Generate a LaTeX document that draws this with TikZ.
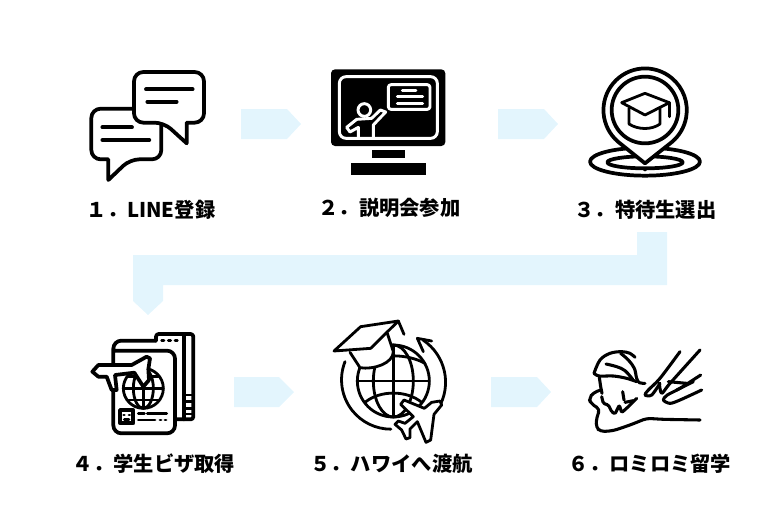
\documentclass[tikz,border=0pt]{standalone}
\usepackage{fontspec}
\setmainfont{Noto Sans CJK JP}
\tikzset{
  x=0.75pt,y=-0.75pt,
  blockarrow/.style={fill=arrowblue,draw=none},
  steplabel/.style={font=\fontsize{15.2}{18}\selectfont\bfseries,text=black,inner sep=0pt,anchor=center},
  icon/.style={x=0.25pt,y=-0.25pt},
  ink/.style={draw=black,line width=2.8pt,line join=round,line cap=round},
  thinink/.style={draw=black,line width=2.1pt,line join=round,line cap=round},
  chalk/.style={draw=white,line width=2.2pt,line join=round,line cap=round},
}
\definecolor{arrowblue}{HTML}{E3F5FD}
\begin{document}
\begin{tikzpicture}
\useasboundingbox (0,0) rectangle (777,525);
% block arrows
\fill[blockarrow] (241,109) -- (287,109) -- (301,124) -- (287,139) -- (241,139) -- cycle;
\fill[blockarrow] (498,109) -- (544,109) -- (558,124) -- (544,139) -- (498,139) -- cycle;
\fill[blockarrow] (234,377) -- (279,377) -- (294,392) -- (279,407) -- (234,407) -- cycle;
\fill[blockarrow] (491,377) -- (537,377) -- (551,392) -- (537,407) -- (491,407) -- cycle;
\fill[blockarrow] (637,232) -- (667,232) -- (667,285) -- (163,285) -- (163,301) -- (148,315) -- (133,301) -- (133,255) -- (637,255) -- cycle;
% labels
\node[steplabel] (s1) at (151,210) {１．LINE登録};
\node[steplabel] (s2) at (389.5,208) {２．説明会参加};
\node[steplabel] (s3) at (645.5,210) {３．特待生選出};
\node[steplabel] (s4) at (154,464) {４．学生ビザ取得};
\node[steplabel] (s5) at (391.5,464) {５．ハワイへ渡航};
\node[steplabel] (s6) at (650,464) {６．ロミロミ留学};
% icon 1: speech bubbles
\begin{scope}[shift={(70,50)},icon]
\draw[ink,fill=white] (115,390) -- (115,328) [rounded corners=7pt] -- (64,328) -- (64,176) -- (274,176) -- (274,328) -- (180,328) [sharp corners] -- cycle;
\draw[ink] (97,232) -- (186,232) (97,270) -- (238,270);
\draw[ink,fill=white] (350,280) -- (350,218) [rounded corners=7pt] -- (402,218) -- (402,66) -- (192,66) -- (192,218) -- (282,218) [sharp corners] -- cycle;
\draw[ink] (228,118) -- (368,118) (232,155) -- (320,155);
\end{scope}
% icon 2: monitor
\begin{scope}[shift={(310,50)},icon]
\fill[black,rounded corners=3pt] (63,58) rectangle (406,288);
\draw[chalk,rounded corners=5pt] (88,80) rectangle (382,265);
\draw[chalk,rounded corners=2pt] (235,104) rectangle (360,178);
\draw[chalk] (277,122) -- (318,122) (262,140) -- (338,140) (262,160) -- (338,160);
\fill[black] (186,300) rectangle (284,325);
\fill[black] (124,340) rectangle (347,374);
\end{scope}
\begin{scope}[shift={(335,90)},icon]
\draw[chalk] (88,60) circle (19);
\draw[chalk] (70,143) -- (70,112) -- (45,126) -- (35,112) -- (65,88) -- (110,85) -- (136,60) -- (152,66) -- (115,105) -- (115,143);
\end{scope}
% icon 3: map pin with cap
\begin{scope}[shift={(560,50)},icon]
\draw[ink] (255,335) ellipse (165 and 42);
\draw[ink] (255,337) ellipse (113 and 18);
\fill[black] (255,358) circle (6);
\draw[ink,fill=white] (255,340) -- (175,276) arc (130:410:125) -- cycle;
\draw[ink] (255,180) circle (100);
\draw[thinink] (185,158) -- (255,130) -- (328,158) -- (255,195) -- cycle;
\draw[thinink] (207,175) -- (207,222) .. controls (235,240) and (275,240) .. (300,222) -- (300,175);
\draw[thinink] (328,158) -- (328,200);
\end{scope}
% icon 4: passport
\begin{scope}[shift={(85,330)},icon]
\draw[ink,rounded corners=2pt] (213,32) -- (213,12) -- (325,12) -- (325,268) -- (272,268);
\draw[ink] (296,12) -- (296,268);
\draw[thinink] (296,195) -- (325,195) (296,215) -- (325,215) (296,235) -- (325,235) (296,252) -- (325,252);
\draw[thinink] (230,32) -- (237,32) (250,32) -- (257,32) (270,32) -- (277,32);
\draw[ink,fill=white,rounded corners=6pt] (213,32) -- (85,32) -- (85,310) -- (270,310) -- (270,62) -- (85,62);
\draw[thinink] (175,175) circle (60);
\draw[thinink] (175,175) ellipse (30 and 60);
\draw[thinink] (115,175) -- (235,175) (130,140) -- (220,140) (130,210) -- (220,210) (175,115) -- (175,235);
\draw[ink,fill=white] (22,125) -- (40,105) -- (140,105) -- (185,80) -- (195,85) -- (190,118) -- (192,150) -- (175,170) -- (148,128) -- (90,135) -- (95,180) -- (80,180) -- (65,140) -- (40,140) -- cycle;
\draw[ink] (105,240) rectangle (145,280);
\draw[thinink] (116,255) -- (118,255) (132,255) -- (134,255) (118,268) -- (132,268);
\draw[thinink] (160,250) -- (178,250) (187,250) -- (245,250) (160,270) -- (210,270) (225,270) -- (228,270) (240,270) -- (243,270);
\end{scope}
% icon 5: globe
\begin{scope}[shift={(330,315)},icon]
\draw[thinink] (190,198) circle (108);
\draw[thinink] (190,198) ellipse (60 and 108);
\draw[thinink] (82,198) -- (298,198) (190,90) -- (190,306);
\draw[thinink] (95,145) .. controls (150,115) and (230,115) .. (285,145);
\draw[thinink] (105,262) .. controls (150,225) and (230,225) .. (275,262);
\draw[thinink,fill=white] (60,112) -- (90,158) .. controls (130,165) and (190,145) .. (190,110) -- (172,55);
\draw[thinink,fill=white] (12,108) -- (92,35) -- (205,18) -- (122,100) -- cycle;
\draw[thinink] (205,18) -- (222,58);
\draw[thinink] (45,140) arc (201.6:90:148);
\draw[thinink] (325,280) arc (31:-56:152);
\draw[thinink] (305,78) -- (262,70) -- (280,110);
\draw[thinink,fill=white] (330,258) -- (335,270) -- (312,298) -- (302,375) -- (288,382) -- (262,320) -- (240,342) -- (240,368) -- (228,372) -- (215,345) -- (195,328) -- (205,318) -- (225,325) -- (250,305) -- (212,268) -- (222,255) -- (283,280) -- (305,262) -- cycle;
\end{scope}
% icon 6: lomi lomi
\begin{scope}[shift={(580,340)},icon,thinink/.append style={line width=2.3pt}]
\draw[thinink] plot[smooth,tension=.6] coordinates {(42,100) (60,60) (90,40) (125,35) (150,40) (165,52)};
\draw[thinink] plot[smooth,tension=.6] coordinates {(122,40) (145,60) (163,85) (170,115) (178,128) (195,130)};
\draw[thinink] plot[smooth,tension=.6] coordinates {(78,72) (110,80) (135,92) (158,118)};
\draw[thinink] plot[smooth,tension=.6] coordinates {(42,100) (58,108) (100,108) (140,115) (170,125)};
\draw[thinink] (58,112) -- (62,140) -- (66,160);
\draw[thinink,rounded corners=3pt] (62,150) -- (40,158) -- (27,175) -- (32,190) -- (60,208) -- (50,232) -- (48,262) -- (62,275) -- (100,272) -- (150,255) -- (200,235) -- (250,238) -- (360,240);
\draw[thinink,rounded corners=1pt] (65,170) -- (70,190) -- (85,195) -- (95,215) -- (105,222) -- (118,195) -- (125,218) -- (145,200) -- (170,175);
\draw[thinink] (128,155) -- (132,180) (135,187) -- (160,182);
\draw[thinink] plot[smooth,tension=.5] coordinates {(300,35) (240,115) (205,150) (195,165) (215,165) (240,130)};
\draw[thinink] plot[smooth,tension=.5] coordinates {(360,30) (270,130) (245,160) (238,130)};
\draw[thinink] (265,125) -- (320,130) (290,150) -- (340,125);
\draw[thinink] plot[smooth,tension=.5] coordinates {(362,105) (300,145) (262,165) (250,180) (270,190) (300,180) (365,150)};
\end{scope}
\end{tikzpicture}
\end{document}
